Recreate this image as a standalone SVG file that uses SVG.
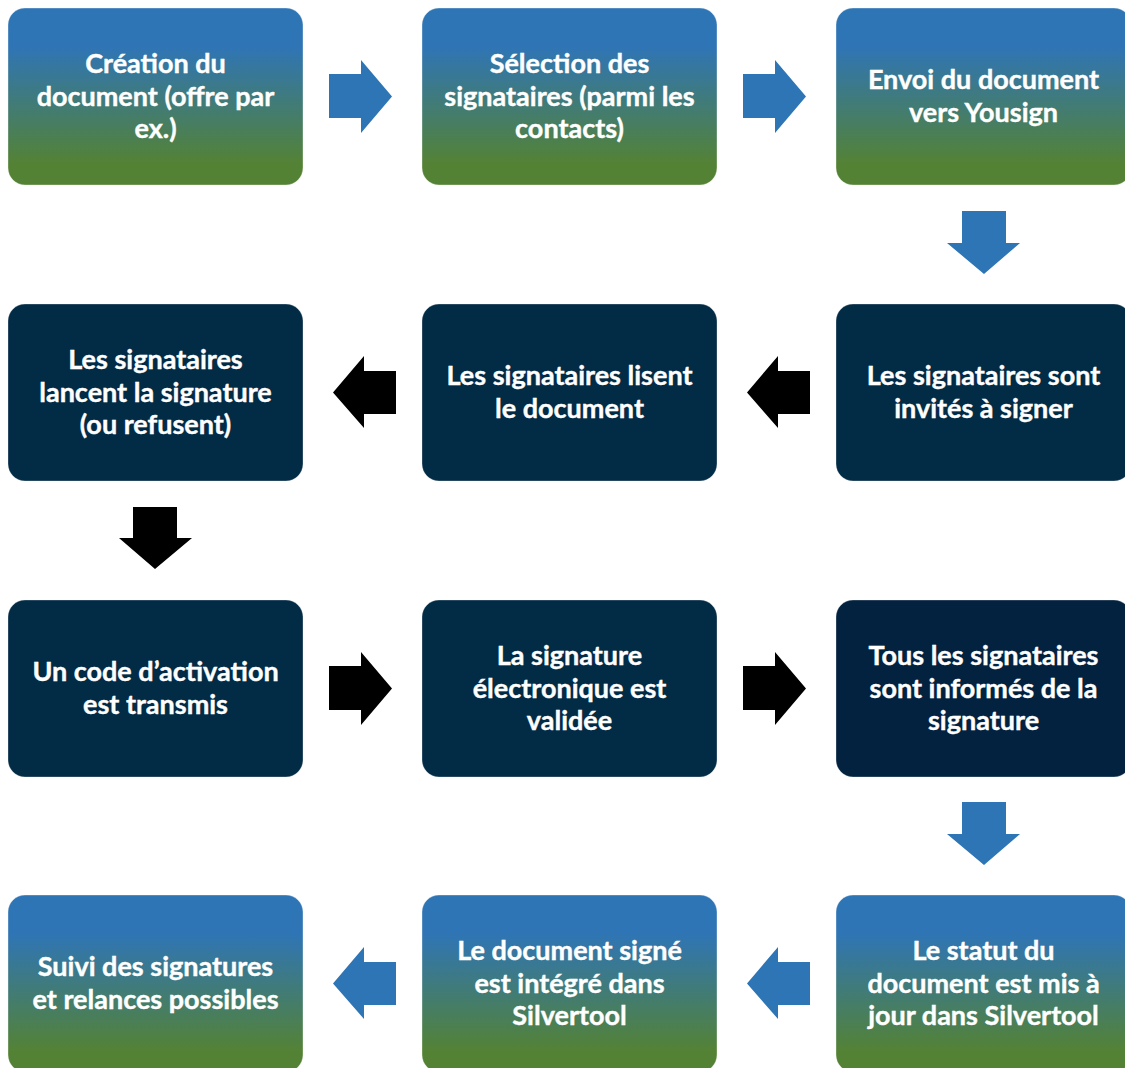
<svg xmlns="http://www.w3.org/2000/svg" width="1125" height="1068" viewBox="0 0 1125 1068">
<defs>
<linearGradient id="g" x1="0" y1="0" x2="0" y2="1">
<stop offset="0" stop-color="#2E75B6"/>
<stop offset="0.22" stop-color="#2F75B5"/>
<stop offset="0.88" stop-color="#548235"/>
<stop offset="1" stop-color="#548235"/>
</linearGradient>
<style>
.grad{fill:url(#g);stroke:#ffffff;stroke-opacity:0.35;stroke-width:1}
.dark{fill:#022B46;stroke:#ffffff;stroke-opacity:0.3;stroke-width:1}
.dark2{fill:#03223F;stroke:#ffffff;stroke-opacity:0.3;stroke-width:1}
text{font-family:Lato,"Liberation Sans",sans-serif;font-weight:bold;font-size:27px;fill:#ffffff;text-anchor:middle;stroke:#ffffff;stroke-width:0.4}
.ab{fill:#2E75B6}
.ak{fill:#000000}
</style>
</defs>
<g id="nodes">
<g id="n1"><rect class="grad" x="8" y="8" width="295" height="177" rx="17"/>
<text x="155.5" y="73">Création du</text><text x="155.5" y="105.5">document (offre par</text><text x="155.5" y="138">ex.)</text></g>
<g id="n2"><rect class="grad" x="422" y="8" width="295" height="177" rx="17"/>
<text x="569.5" y="73">Sélection des</text><text x="569.5" y="105.5">signataires (parmi les</text><text x="569.5" y="138">contacts)</text></g>
<g id="n3"><rect class="grad" x="836" y="8" width="295" height="177" rx="17"/>
<text x="983.5" y="89">Envoi du document</text><text x="983.5" y="121.5">vers Yousign</text></g>
<g id="n4"><rect class="dark" x="836" y="304" width="295" height="177" rx="17"/>
<text x="983.5" y="385">Les signataires sont</text><text x="983.5" y="417.5">invités à signer</text></g>
<g id="n5"><rect class="dark" x="422" y="304" width="295" height="177" rx="17"/>
<text x="569.5" y="385">Les signataires lisent</text><text x="569.5" y="417.5">le document</text></g>
<g id="n6"><rect class="dark" x="8" y="304" width="295" height="177" rx="17"/>
<text x="155.5" y="369">Les signataires</text><text x="155.5" y="401.5">lancent la signature</text><text x="155.5" y="434">(ou refusent)</text></g>
<g id="n7"><rect class="dark" x="8" y="600" width="295" height="177" rx="17"/>
<text x="155.5" y="681">Un code d’activation</text><text x="155.5" y="713.5">est transmis</text></g>
<g id="n8"><rect class="dark" x="422" y="600" width="295" height="177" rx="17"/>
<text x="569.5" y="665">La signature</text><text x="569.5" y="697.5">électronique est</text><text x="569.5" y="730">validée</text></g>
<g id="n9"><rect class="dark2" x="836" y="600" width="295" height="177" rx="17"/>
<text x="983.5" y="665">Tous les signataires</text><text x="983.5" y="697.5">sont informés de la</text><text x="983.5" y="730">signature</text></g>
<g id="n10"><rect class="grad" x="836" y="895" width="295" height="177" rx="17"/>
<text x="983.5" y="960">Le statut du</text><text x="983.5" y="992.5">document est mis à</text><text x="983.5" y="1025">jour dans Silvertool</text></g>
<g id="n11"><rect class="grad" x="422" y="895" width="295" height="177" rx="17"/>
<text x="569.5" y="960">Le document signé</text><text x="569.5" y="992.5">est intégré dans</text><text x="569.5" y="1025">Silvertool</text></g>
<g id="n12"><rect class="grad" x="8" y="895" width="295" height="177" rx="17"/>
<text x="155.5" y="976">Suivi des signatures</text><text x="155.5" y="1008.5">et relances possibles</text></g>
</g>
<g id="connectors">
<polygon class="ab" points="329,74 361,74 361,60 392,96.5 361,133 361,118 329,118"/>
<polygon class="ab" points="743,74 775,74 775,60 806,96.5 775,133 775,118 743,118"/>
<polygon class="ab" points="962,211 1006,211 1006,243 1020,243 984,274 947,243 962,243"/>
<polygon class="ak" points="810,371 778,371 778,356 747,392.5 778,428 778,414 810,414"/>
<polygon class="ak" points="396,371 364,371 364,356 333,392.5 364,428 364,414 396,414"/>
<polygon class="ak" points="133,507 177,507 177,538 192,538 155,569 119,538 133,538"/>
<polygon class="ak" points="329,666 361,666 361,652 392,688.5 361,725 361,710 329,710"/>
<polygon class="ak" points="743,666 775,666 775,652 806,688.5 775,725 775,710 743,710"/>
<polygon class="ab" points="962,802 1006,802 1006,834 1020,834 984,865 947,834 962,834"/>
<polygon class="ab" points="810,962 778,962 778,947 747,983.5 778,1019 778,1005 810,1005"/>
<polygon class="ab" points="396,962 364,962 364,947 333,983.5 364,1019 364,1005 396,1005"/>
</g>
</svg>
